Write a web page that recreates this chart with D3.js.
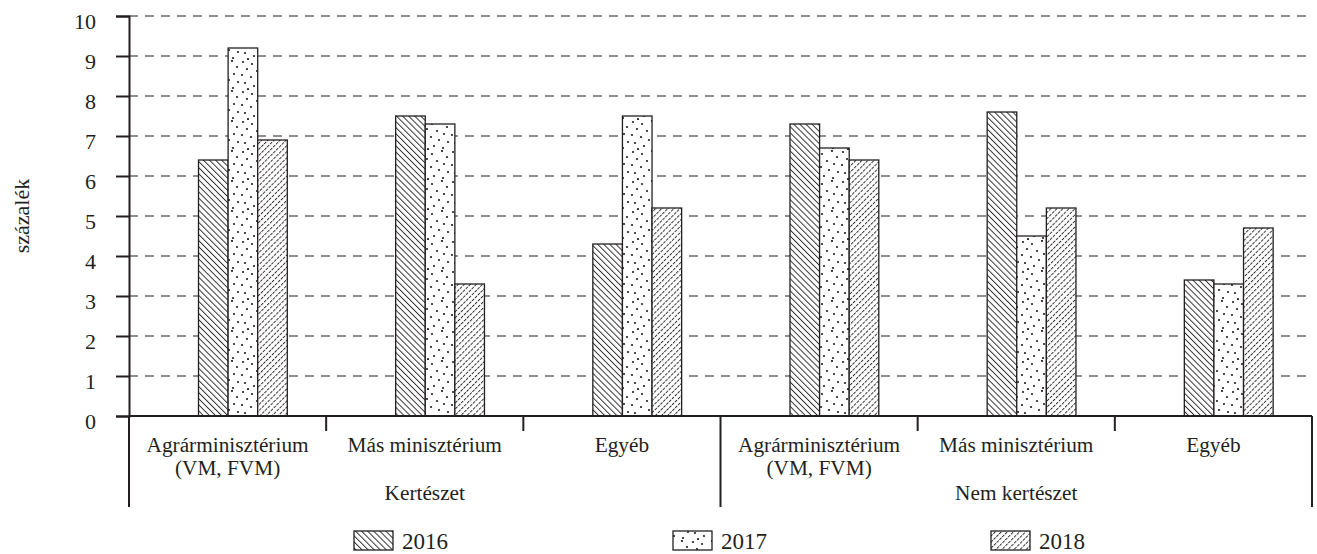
<!DOCTYPE html>
<html><head><meta charset="utf-8">
<script src="https://cdn.jsdelivr.net/npm/d3@7/dist/d3.min.js"></script>
<style>body{margin:0;background:#fff}svg{display:block}svg text{font-family:"Liberation Serif","DejaVu Serif","Times New Roman",serif !important;fill:#231f20}</style>
</head><body><svg id="c" width="1317" height="554"></svg>
<script>
const subCategories = ["Agrárminisztérium\n(VM, FVM)", "Más minisztérium", "Egyéb", "Agrárminisztérium\n(VM, FVM)", "Más minisztérium", "Egyéb"];
const mainCategories = ["Kertészet", "Nem kertészet"];
const seriesNames = ["2016", "2017", "2018"];
const values2016 = [6.4, 7.5, 4.3, 7.3, 7.6, 3.4];
const values2017 = [9.2, 7.3, 7.5, 6.7, 4.5, 3.3];
const values2018 = [6.9, 3.3, 5.2, 6.4, 5.2, 4.7];
const yTicks = [0,1,2,3,4,5,6,7,8,9,10];
const yLabel = "százalék";

(function(){
const series = [values2016, values2017, values2018];
const svg = d3.select("#c");
const ink = "#231f20";
const serif = "'Liberation Serif', 'DejaVu Serif', serif";
const mLeft = 129, mRight = 1312, mTop = 16, mBottom = 416;
const y = d3.scaleLinear().domain([0,10]).range([mBottom, mTop]);
const idx = d3.range(subCategories.length);
const x0 = d3.scaleBand().domain(idx).range([mLeft, mRight]).padding(0);
const bw = 29.6;
const x1 = d3.scaleBand().domain([0,1,2]).range([0, bw*3]);

// patterns
const defs = svg.append("defs");
const p1 = defs.append("pattern").attr("id","p2016").attr("patternUnits","userSpaceOnUse").attr("width",4.3).attr("height",10).attr("patternTransform","rotate(-45)");
p1.append("rect").attr("width",4.3).attr("height",10).attr("fill","#fff");
p1.append("line").attr("x1",0.5).attr("y1",0).attr("x2",0.5).attr("y2",10).attr("stroke",ink).attr("stroke-width",0.9);
const p2 = defs.append("pattern").attr("id","p2017").attr("patternUnits","userSpaceOnUse").attr("width",30).attr("height",30);
p2.append("rect").attr("width",30).attr("height",30).attr("fill","#fff");
const dots=[[3,2],[12,4],[22,1],[27,7],[7,9],[17,11],[24,14],[2,15],[11,17],[19,20],[28,22],[5,23],[14,26],[23,28],[8,29]];
dots.forEach(d=>p2.append("circle").attr("cx",d[0]).attr("cy",d[1]).attr("r",1.1).attr("fill",ink));
const p3 = defs.append("pattern").attr("id","p2018").attr("patternUnits","userSpaceOnUse").attr("width",4.3).attr("height",8).attr("patternTransform","rotate(45)");
p3.append("rect").attr("width",4.3).attr("height",8).attr("fill","#fff");
p3.append("line").attr("x1",0.5).attr("y1",0).attr("x2",0.5).attr("y2",8).attr("stroke",ink).attr("stroke-width",0.9).attr("stroke-dasharray","3,1");
const fills = ["url(#p2016)","url(#p2017)","url(#p2018)"];

// gridlines
svg.append("g").selectAll("line").data(yTicks.filter(t=>t>0)).join("line")
 .attr("x1",mLeft).attr("x2",1307).attr("y1",d=>y(d)).attr("y2",d=>y(d))
 .attr("stroke",ink).attr("stroke-width",1.2).attr("stroke-dasharray","9,7");

// bars
idx.forEach(i=>{
  const gx = x0(i) + 69.5;
  series.forEach((s,j)=>{
    svg.append("rect").attr("x",gx+x1(j)).attr("y",y(s[i])).attr("width",bw).attr("height",y(0)-y(s[i]))
      .attr("fill",fills[j]).attr("stroke",ink).attr("stroke-width",1.3);
  });
});

// y axis
const ya = svg.append("g").attr("transform",`translate(${mLeft},0)`).call(d3.axisLeft(y).tickValues(yTicks).tickSize(13).tickPadding(20));
ya.attr("font-family",serif);
ya.select(".domain").attr("stroke",ink).attr("stroke-width",2);
ya.selectAll(".tick line").attr("stroke",ink).attr("stroke-width",2);
ya.selectAll(".tick text").attr("font-size",22).attr("dy","0.55em").attr("fill",ink).attr("font-family",serif);

// x axis baseline
svg.append("line").attr("x1",mLeft).attr("x2",mRight).attr("y1",mBottom).attr("y2",mBottom).attr("stroke",ink).attr("stroke-width",2);
// separators
idx.concat([6]).forEach(i=>{
  const xx = i<6 ? x0(i) : mRight;
  const long = (i%3===0);
  svg.append("line").attr("x1",xx).attr("x2",xx).attr("y1",mBottom).attr("y2",long?507:431).attr("stroke",ink).attr("stroke-width",2);
});
// sub labels
idx.forEach(i=>{
  const lines = subCategories[i].split("\n");
  const t = svg.append("text").attr("x",x0(i)+x0.bandwidth()/2).attr("y",452).attr("text-anchor","middle").attr("font-size",21.3).attr("font-family",serif);
  lines.forEach((l,k)=>t.append("tspan").attr("x",x0(i)+x0.bandwidth()/2).attr("dy",k?23:0).text(l));
});
// main labels
mainCategories.forEach((m,k)=>{
  svg.append("text").attr("x",(x0(k*3)+ (k?mRight:x0(3)))/2).attr("y",500).attr("text-anchor","middle").attr("font-size",21.3).attr("font-family",serif).text(m);
});
// y label
svg.append("text").attr("transform","translate(29,216) rotate(-90)").attr("text-anchor","middle").attr("font-size",22).attr("font-family",serif).text(yLabel);

// legend
const legX = [354, 673, 991];
seriesNames.forEach((n,j)=>{
  svg.append("rect").attr("x",legX[j]).attr("y",531).attr("width",39).attr("height",19).attr("fill",fills[j]).attr("stroke",ink).attr("stroke-width",1.3);
  svg.append("text").attr("x",legX[j]+48).attr("y",549).attr("font-size",23).attr("font-family",serif).text(n);
});
})();
</script></body></html>
